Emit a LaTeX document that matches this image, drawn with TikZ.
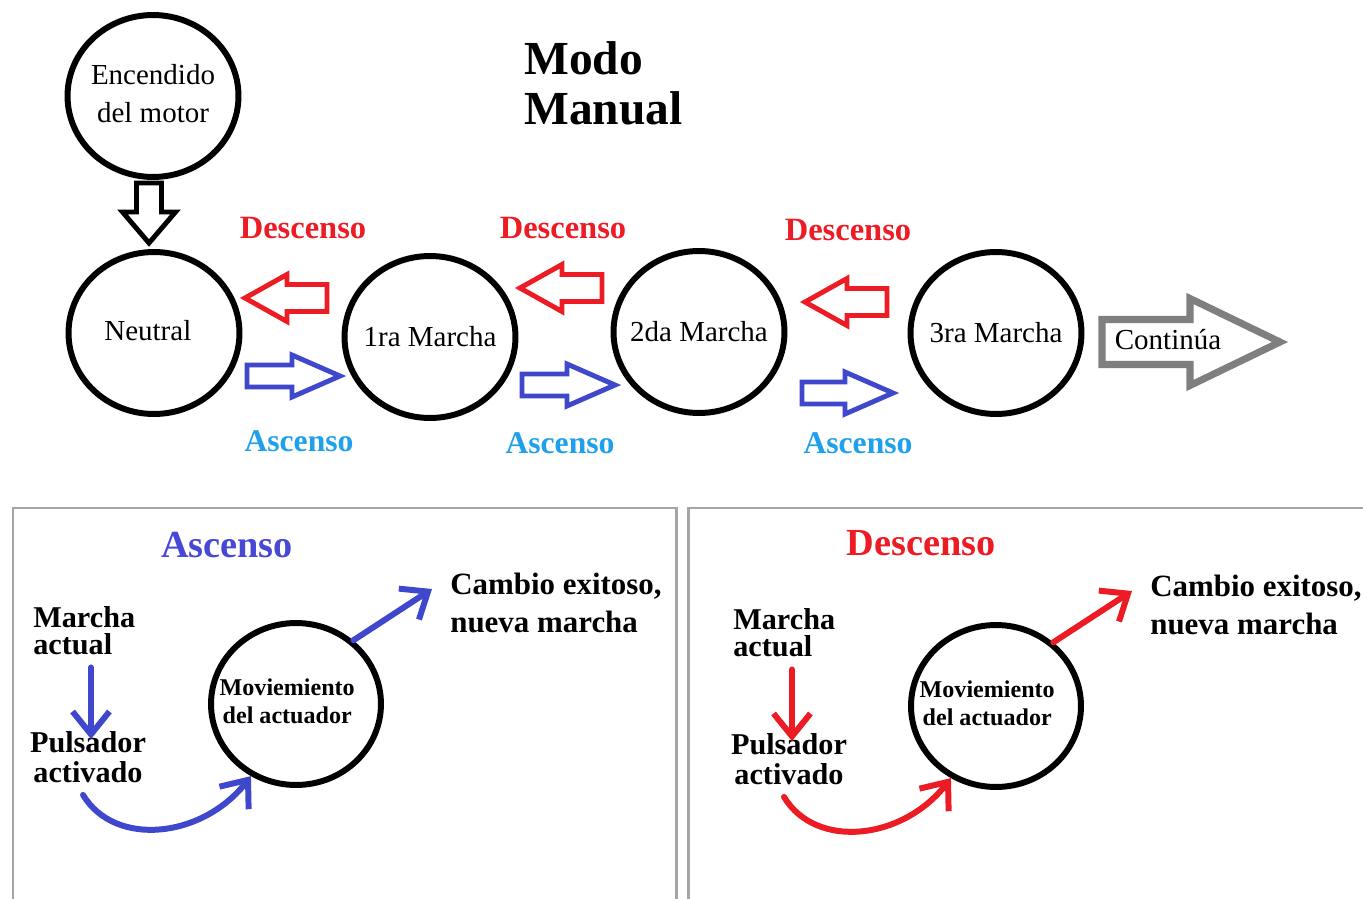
\documentclass[tikz,border=0pt]{standalone}
\usepackage{fontspec}
\setmainfont{Liberation Serif}
\usetikzlibrary{arrows.meta,calc,shapes.geometric}
\definecolor{paintred}{RGB}{237,28,36}
\definecolor{paintblue}{RGB}{63,72,204}
\definecolor{titleblue}{RGB}{72,72,214}
\definecolor{skyblue}{RGB}{30,160,235}
\definecolor{framegray}{RGB}{165,165,165}
\definecolor{contgray}{RGB}{127,127,127}

\begin{document}
\begin{tikzpicture}[x=0.02cm,y=-0.02cm,
  state/.style={ellipse,draw,line width=3.4pt,minimum width=3.42cm,minimum height=3.24cm,
    inner xsep=-14pt,inner ysep=0pt,align=center,font=\fontsize{16.5}{21.5}\selectfont},
  actuator/.style={ellipse,draw,line width=3.4pt,minimum width=3.4cm,minimum height=3.24cm,
    inner xsep=-14pt,inner ysep=0pt,align=center,font=\bfseries\fontsize{13.7}{16}\selectfont},
  downlbl/.style={text=paintred,inner sep=0pt,font=\bfseries\fontsize{18.5}{22}\selectfont},
  uplbl/.style={text=skyblue,inner sep=0pt,font=\bfseries\fontsize{18}{22}\selectfont},
  paneltitle/.style={inner sep=0pt,font=\bfseries\fontsize{21.8}{26}\selectfont},
  steptext/.style={inner sep=0pt,font=\bfseries\fontsize{17.2}{15.3}\selectfont},
  keytext/.style={inner sep=0pt,align=center,font=\bfseries\fontsize{17.2}{17}\selectfont},
  resulttext/.style={inner sep=0pt,align=left,font=\bfseries\fontsize{17.6}{22}\selectfont},
  panel/.style={draw=framegray,line width=1.7pt},
  flow/.style={draw=#1,line width=3.4pt,line cap=round,-{Straight Barb[length=13pt,width=21pt]}},
  pics/hollowarrow/.style n args={4}{code={
    \draw[pic actions] (0,-#2) -- ({#1-#4},-#2) -- ({#1-#4},-#3) -- (#1,0)
      -- ({#1-#4},#3) -- ({#1-#4},#2) -- (0,#2) -- cycle;}}
]
\useasboundingbox (0,0) rectangle (1363,899);
\clip (0,0) rectangle (1363,899);

% ---------- gear sequence ----------
\node[state] (enc) at (153,96) {\raisebox{3pt}{\begin{tabular}{@{}c@{}}Encendido\\del motor\end{tabular}}};
\node[state] (neu) at (154,333) {\raisebox{3pt}{Neutral\hspace{7pt}}};
\node[state] (m1) at (430,337) {1ra Marcha};
\node[state] (m2) at (699,332) {2da Marcha};
\node[state] (m3) at (996,333) {3ra Marcha};

\node[anchor=west,align=left,inner sep=0pt,font=\bfseries\fontsize{27}{28.4}\selectfont]
  (title) at (524,83) {Modo\\Manual};

% engine start leads to neutral
\pic[draw=black,line width=2.8pt,fill=white,rotate=-90] at (149,183) {hollowarrow={60}{12.5}{26.5}{31}};

% downshift arrows
\pic[draw=paintred,line width=2.8pt,fill=white,rotate=180] at (327,298) {hollowarrow={82}{13.5}{23.5}{42}};
\pic[draw=paintred,line width=2.8pt,fill=white,rotate=180] at (602,288) {hollowarrow={82}{13.5}{23.5}{42}};
\pic[draw=paintred,line width=2.8pt,fill=white,rotate=180] at (887,302) {hollowarrow={82}{13.5}{23.5}{42}};

% upshift arrows
\pic[draw=paintblue,line width=2.8pt,fill=white] at (247,376) {hollowarrow={93}{11}{21}{48}};
\pic[draw=paintblue,line width=2.8pt,fill=white] at (522,385) {hollowarrow={93}{11}{21}{48}};
\pic[draw=paintblue,line width=2.8pt,fill=white] at (802,393) {hollowarrow={91}{11}{21}{48}};

\node[downlbl] (d1) at (303,228) {Descenso};
\node[downlbl] (d2) at (563,228) {Descenso};
\node[downlbl] (d3) at (848,230) {Descenso};
\node[uplbl] (u1) at (299,441) {Ascenso};
\node[uplbl] (u2) at (560,443) {Ascenso};
\node[uplbl] (u3) at (858,443) {Ascenso};

% continuation arrow
\pic[draw=contgray,line width=4pt,fill=white] at (1102,342) {hollowarrow={178}{22.5}{43.5}{90}};
\node[inner sep=0pt,font=\fontsize{16.5}{20}\selectfont] (cont) at (1168,340) {Continúa};

% ---------- panels ----------
\draw[panel] (13,508) rectangle (676,915);
\draw[panel] (688,508) rectangle (1390,915);

% upshift panel
\node[paneltitle,text=titleblue] (ta) at (227,545) {Ascenso};
\node[steptext,anchor=west,align=left] (ma) at (33,631) {Marcha\\actual};
\node[keytext] (pa) at (88,757) {Pulsador\\activado};
\node[actuator] (mv) at (296,704) {\hspace{-10pt}\begin{tabular}{@{}c@{}}Moviemiento\\del actuador\end{tabular}};
\node[resulttext,anchor=west] (ce) at (450,603) {Cambio exitoso,\\nueva marcha};
\draw[flow=paintblue] ($(pa.north |- ma.south)+(3,12)$) -- ($(pa.north)+(3,8)$);
\draw[flow=paintblue] ($(pa.south)+(-5,12)$) .. controls +(32,53) and +(-48,62) .. (mv.238);
\draw[flow=paintblue] (mv.48) -- ($(ce.west)+(-18,-14)$);

% downshift panel
\node[paneltitle,text=paintred] (td) at (921,543) {Descenso};
\node[steptext,anchor=west,align=left] (mb) at (733,633) {Marcha\\actual};
\node[keytext] (pb) at (789,759) {Pulsador\\activado};
\node[actuator] (mw) at (996,706) {\hspace{-10pt}\begin{tabular}{@{}c@{}}Moviemiento\\del actuador\end{tabular}};
\node[resulttext,anchor=west] (cf) at (1150,605) {Cambio exitoso,\\nueva marcha};
\draw[flow=paintred] ($(pb.north |- mb.south)+(3,12)$) -- ($(pb.north)+(3,8)$);
\draw[flow=paintred] ($(pb.south)+(-5,12)$) .. controls +(32,53) and +(-48,62) .. (mw.238);
\draw[flow=paintred] (mw.48) -- ($(cf.west)+(-18,-14)$);
\end{tikzpicture}
\end{document}
